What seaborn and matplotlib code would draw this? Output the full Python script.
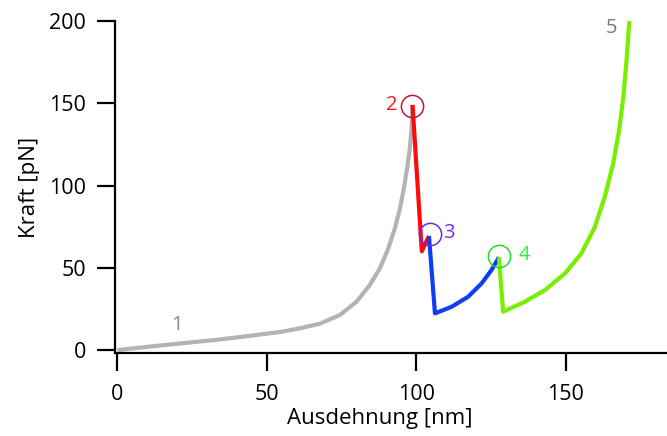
import matplotlib
matplotlib.use("Agg")
import matplotlib.pyplot as plt
import seaborn as sns
import pandas as pd

# Force-extension trace, split into the unfolding segments
x_seg1 = [0, 10.3, 21.5, 32.6, 43.7, 54.9, 61.0, 67.7, 74.4, 80.0, 84.4, 87.8, 90.6,
          92.8, 94.5, 95.8, 96.9, 97.8, 98.4, 98.7]
y_seg1 = [0, 2.0, 4.1, 6.1, 8.5, 11.1, 13.2, 16.0, 21.3, 29.4, 39.5, 49.7, 61.8,
          74.0, 86.1, 98.3, 110.4, 122.6, 134.8, 149.0]

x_seg2 = [98.7, 101.8, 104.2]
y_seg2 = [149.0, 60.0, 69.3]

x_seg3 = [104.2, 106.2, 111.8, 117.3, 121.8, 125.1, 127.6]
y_seg3 = [69.3, 22.3, 26.3, 32.4, 40.5, 48.6, 56.4]

x_seg4 = [127.6, 129.0, 136.3, 143.0, 149.7, 155.2, 159.7, 163.0, 165.8, 167.8,
          169.2, 170.2, 171.2]
y_seg4 = [56.4, 23.3, 29.4, 36.5, 46.6, 58.8, 75.0, 93.2, 113.5, 133.7,
          154.0, 174.3, 200.0]

# Rupture events (circled)
event_x = [98.4, 104.5, 127.7]
event_y = [148.5, 70.5, 57.3]

# Segment labels
label_text = ["1", "2", "3", "4", "5"]
label_x = [19.8, 91.8, 110.8, 136.0, 165.3]
label_y = [15.2, 149.0, 71.0, 58.0, 195.6]

xticks = [0, 50, 100, 150]
yticks = [0, 50, 100, 150, 200]

sns.set_theme(style="ticks")
plt.rcParams["font.family"] = ["Open Sans", "DejaVu Sans"]

segments = pd.concat([
    pd.DataFrame({"x": x_seg1, "y": y_seg1, "seg": "1", "order": range(len(x_seg1))}),
    pd.DataFrame({"x": x_seg2, "y": y_seg2, "seg": "2", "order": range(len(x_seg2))}),
    pd.DataFrame({"x": x_seg3, "y": y_seg3, "seg": "3", "order": range(len(x_seg3))}),
    pd.DataFrame({"x": x_seg4, "y": y_seg4, "seg": "4", "order": range(len(x_seg4))}),
], ignore_index=True)

seg_colors = {"1": "#b3b3b3", "2": "#ff0a0a", "3": "#0f3cf5", "4": "#78ee00"}
circle_colors = ["#c8143c", "#6a28ee", "#22dd22"]
text_colors = ["#8a8a8a", "#ff1a1a", "#7a2cf2", "#33ee33", "#7a7a7a"]

fig = plt.figure(figsize=(6.67, 4.36), dpi=100)
ax = fig.add_axes([115 / 667, 83 / 436, 552 / 667, 332 / 436])

sns.lineplot(data=segments, x="x", y="y", hue="seg", units="seg", estimator=None,
             sort=False, palette=seg_colors, linewidth=3.0, legend=False, ax=ax)
for line in ax.get_lines():
    line.set_solid_joinstyle("round")
    line.set_solid_capstyle("butt")

for cx, cy, cc in zip(event_x, event_y, circle_colors):
    ax.plot(cx, cy, marker="o", markersize=16, markerfacecolor="none",
            markeredgecolor=cc, markeredgewidth=1.1, zorder=5)

for t, lx, ly, tc in zip(label_text, label_x, label_y, text_colors):
    ax.text(lx, ly, t, color=tc, fontsize=14.5, ha="center", va="center")

ax.set_xlim(-0.8, 183.8)
ax.set_ylim(-1.8, 200)
ax.set_xticks(xticks)
ax.set_yticks(yticks)
ax.set_xlabel("Ausdehnung [nm]", fontsize=16, color="black")
ax.set_ylabel("Kraft [pN]", fontsize=16, color="black")
ax.xaxis.set_label_coords(0.48, -0.165)
ax.yaxis.set_label_coords(-0.135, 0.5)
ax.tick_params(axis="both", labelsize=15.5, length=13, width=1.6, direction="out",
               colors="black")
ax.tick_params(axis="y", pad=8)
ax.tick_params(axis="x", pad=9)

for side in ["top", "right"]:
    ax.spines[side].set_visible(False)
for side in ["left", "bottom"]:
    ax.spines[side].set_linewidth(1.6)
    ax.spines[side].set_color("black")

fig.savefig("out.png", dpi=100)
